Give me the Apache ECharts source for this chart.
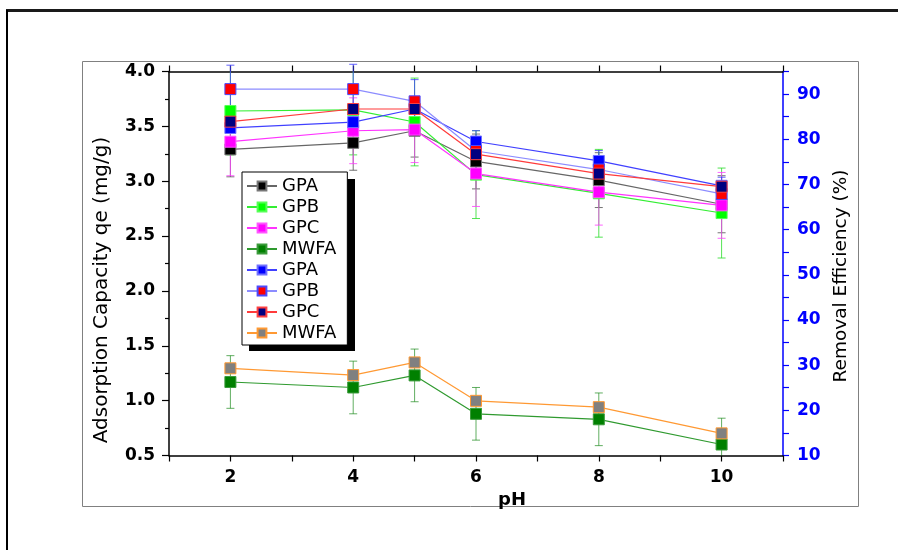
<!DOCTYPE html>
<html>
<head>
<meta charset="utf-8">
<title>pH effect on adsorption capacity and removal efficiency</title>
<script src="https://cdn.jsdelivr.net/npm/echarts@6/dist/echarts.min.js"></script>
<style>
  html, body { margin: 0; padding: 0; background: #ffffff; }
  #chart { width: 898px; height: 550px; }
</style>
</head>
<body>
<div id="chart"></div>
<script>
// pH values tested
const pH = [2, 4, 5, 6, 8, 10];

// Adsorption capacity qe (mg/g), left axis
const qeGPA  = [3.29, 3.35, 3.46, 3.18, 3.01, 2.79];
const qeGPB  = [3.64, 3.65, 3.54, 3.06, 2.89, 2.71];
const qeGPC  = [3.36, 3.46, 3.47, 3.07, 2.90, 2.78];
const qeMWFA = [1.17, 1.12, 1.23, 0.88, 0.83, 0.60];

// Standard deviations of qe
const sdGPA  = [0.25, 0.25, 0.24, 0.25, 0.25, 0.26];
const sdGPB  = [0.40, 0.41, 0.40, 0.40, 0.40, 0.41];
const sdGPC  = [0.31, 0.30, 0.30, 0.30, 0.30, 0.30];
const sdMWFA = [0.24, 0.24, 0.24, 0.24, 0.24, 0.24];

// Removal efficiency (%), right axis
const reGPA  = [82.5, 83.8, 86.7, 79.5, 75.2, 69.7];
const reGPB  = [91.1, 91.1, 88.4, 77.4, 73.3, 67.9];
const reGPC  = [83.9, 86.7, 86.7, 76.7, 72.4, 69.5];
const reMWFA = [29.3, 27.8, 30.6, 22.1, 20.7, 14.9];
const sdReGPB = [5.3, 5.5, 4.8, 4.5, 4.2, 3.7];

// Axis tick settings
const qeTicks = { min: 0.5, max: 4.0, step: 0.5 };
const reTicks = { min: 10, max: 95, step: 5 };
const pHTicks = { min: 1, max: 11, step: 1 };

const FONT = 'DejaVu Sans';

function pairs(ys) { return pH.map((x, i) => [x, ys[i]]); }
function withErr(ys, es) { return pH.map((x, i) => [x, ys[i], es[i]]); }

function errorBars(name, ys, es, color, axis, clip) {
  return {
    type: 'custom',
    name: name,
    yAxisIndex: axis,
    z: 1,
    clip: clip,
    silent: true,
    data: withErr(ys, es),
    renderItem: function (params, api) {
      const x = api.value(0), y = api.value(1), e = api.value(2);
      const hi = api.coord([x, y + e]);
      const lo = api.coord([x, y - e]);
      const w = 4;
      const st = { stroke: color, lineWidth: 1 };
      return {
        type: 'group',
        children: [
          { type: 'line', shape: { x1: hi[0], y1: hi[1], x2: lo[0], y2: lo[1] }, style: st },
          { type: 'line', shape: { x1: hi[0] - w, y1: hi[1], x2: hi[0] + w, y2: hi[1] }, style: st },
          { type: 'line', shape: { x1: lo[0] - w, y1: lo[1], x2: lo[0] + w, y2: lo[1] }, style: st }
        ]
      };
    }
  };
}

function lineSeries(name, ys, axis, lineColor, fill, border) {
  return {
    type: 'line',
    name: name,
    yAxisIndex: axis,
    data: pairs(ys),
    symbol: 'rect',
    symbolSize: 11,
    z: 3,
    lineStyle: { color: lineColor, width: 1.2 },
    itemStyle: { color: fill, borderColor: border, borderWidth: 1 },
    emphasis: { disabled: true }
  };
}

const chart = echarts.init(document.getElementById('chart'), null, { renderer: 'canvas' });

const axisLabelFont = { fontFamily: FONT, fontWeight: 'bold', fontSize: 17 };

chart.setOption({
  animation: false,
  backgroundColor: '#ffffff',
  grid: { left: 169, right: 115, top: 71.5, bottom: 94.5, containLabel: false },
  legend: {
    orient: 'vertical',
    left: 242,
    top: 172,
    padding: [5, 11, 3, 4],
    itemGap: 3,
    itemWidth: 30,
    itemHeight: 11,
    backgroundColor: '#ffffff',
    borderColor: '#000000',
    borderWidth: 1,
    borderRadius: 0,
    z: 10,
    selectedMode: false,
    textStyle: { fontFamily: FONT, fontSize: 18, color: '#000000' },
    formatter: function (n) { return n.split(' ')[0]; },
    data: ['GPA qe', 'GPB qe', 'GPC qe', 'MWFA qe', 'GPA re', 'GPB re', 'GPC re', 'MWFA re']
  },
  xAxis: [
    {
      type: 'value',
      min: pHTicks.min, max: pHTicks.max, interval: pHTicks.step,
      position: 'bottom',
      name: 'pH',
      nameLocation: 'middle',
      nameGap: 26,
      nameTextStyle: { fontFamily: FONT, fontWeight: 'bold', fontSize: 18, color: '#000', padding: [0, 0, 0, 72] },
      axisLine: { show: true, lineStyle: { color: '#000', width: 1.5 } },
      axisTick: { show: true, length: 6, lineStyle: { color: '#000', width: 1.2 } },
      axisLabel: {
        ...axisLabelFont, color: '#000', margin: 14,
        formatter: function (v) { return v % 2 === 0 ? String(v) : ''; }
      },
      splitLine: { show: false }
    },
    {
      type: 'value',
      min: pHTicks.min, max: pHTicks.max, interval: pHTicks.step,
      position: 'top',
      axisLine: { show: true, lineStyle: { color: '#000', width: 1.5 } },
      axisTick: { show: true, length: 6, lineStyle: { color: '#000', width: 1.2 } },
      axisLabel: { show: false },
      splitLine: { show: false }
    }
  ],
  yAxis: [
    {
      type: 'value',
      min: qeTicks.min, max: qeTicks.max, interval: qeTicks.step,
      position: 'left',
      name: 'Adsorption Capacity qe (mg/g)',
      nameLocation: 'middle',
      nameGap: 57,
      nameRotate: 90,
      nameTextStyle: { fontFamily: FONT, fontSize: 20, color: '#000', padding: [0, 53, 0, 0] },
      axisLine: { show: true, lineStyle: { color: '#000', width: 1.5 } },
      axisTick: { show: true, length: 7, lineStyle: { color: '#000', width: 1.2 } },
      minorTick: { show: true, splitNumber: 2, length: 4, lineStyle: { color: '#000', width: 1.2 } },
      axisLabel: { ...axisLabelFont, color: '#000', margin: 14, formatter: function (v) { return v.toFixed(1); } },
      splitLine: { show: false }
    },
    {
      type: 'value',
      min: reTicks.min, max: reTicks.max, interval: reTicks.step,
      position: 'right',
      name: 'Removal Efficiency (%)',
      nameLocation: 'middle',
      nameGap: 48,
      nameRotate: 90,
      nameTextStyle: { fontFamily: FONT, fontSize: 18.5, color: '#000', padding: [0, 25, 0, 0] },
      axisLine: { show: true, lineStyle: { color: '#0000ff', width: 1.5 } },
      axisTick: { show: true, length: 6, lineStyle: { color: '#0000ff', width: 1.2 } },
      axisLabel: {
        ...axisLabelFont, color: '#0000ff', margin: 14,
        formatter: function (v) { return v % 10 === 0 ? String(v) : ''; }
      },
      splitLine: { show: false }
    }
  ],
  graphic: [
    // page frame
    { type: 'line', z: 0, shape: { x1: 6, y1: 10.5, x2: 898, y2: 10.5 }, style: { stroke: '#1a1a1a', lineWidth: 3 } },
    { type: 'line', z: 0, shape: { x1: 7, y1: 10, x2: 7, y2: 550 }, style: { stroke: '#000', lineWidth: 2 } },
    // plot panel border
    { type: 'rect', z: 0, shape: { x: 82.5, y: 61.5, width: 776, height: 445 }, style: { fill: 'none', stroke: '#808080', lineWidth: 1 } },
    // legend drop shadow
    { type: 'rect', z: 5, shape: { x: 249, y: 179, width: 106, height: 172 }, style: { fill: '#000' } }
  ],
  series: [
    errorBars('GPA qe sd', qeGPA, sdGPA, 'rgba(70,70,70,0.75)', 0, true),
    errorBars('GPB qe sd', qeGPB, sdGPB, 'rgba(40,220,40,0.8)', 0, true),
    errorBars('GPC qe sd', qeGPC, sdGPC, 'rgba(255,60,255,0.8)', 0, true),
    errorBars('MWFA qe sd', qeMWFA, sdMWFA, 'rgba(30,140,30,0.7)', 0, true),
    errorBars('GPB re sd', reGPB, sdReGPB, 'rgba(60,60,255,0.8)', 1, false),
    lineSeries('GPA qe',  qeGPA,  0, '#666666', '#000000', '#777777'),
    lineSeries('GPB qe',  qeGPB,  0, '#33ee33', '#00ff00', '#55ff55'),
    lineSeries('GPC qe',  qeGPC,  0, '#ff33ff', '#ff00ff', '#ff55ff'),
    lineSeries('MWFA qe', qeMWFA, 0, '#2f9a2f', '#008000', '#3a9a3a'),
    lineSeries('GPA re',  reGPA,  1, '#4040ff', '#0000ff', '#7070ff'),
    lineSeries('GPB re',  reGPB,  1, '#8c8cff', '#ff0000', '#4a4aff'),
    lineSeries('GPC re',  reGPC,  1, '#ff3b3b', '#000080', '#ff4040'),
    lineSeries('MWFA re', reMWFA, 1, '#ff9933', '#808080', '#ff9933')
  ]
});
</script>
</body>
</html>
